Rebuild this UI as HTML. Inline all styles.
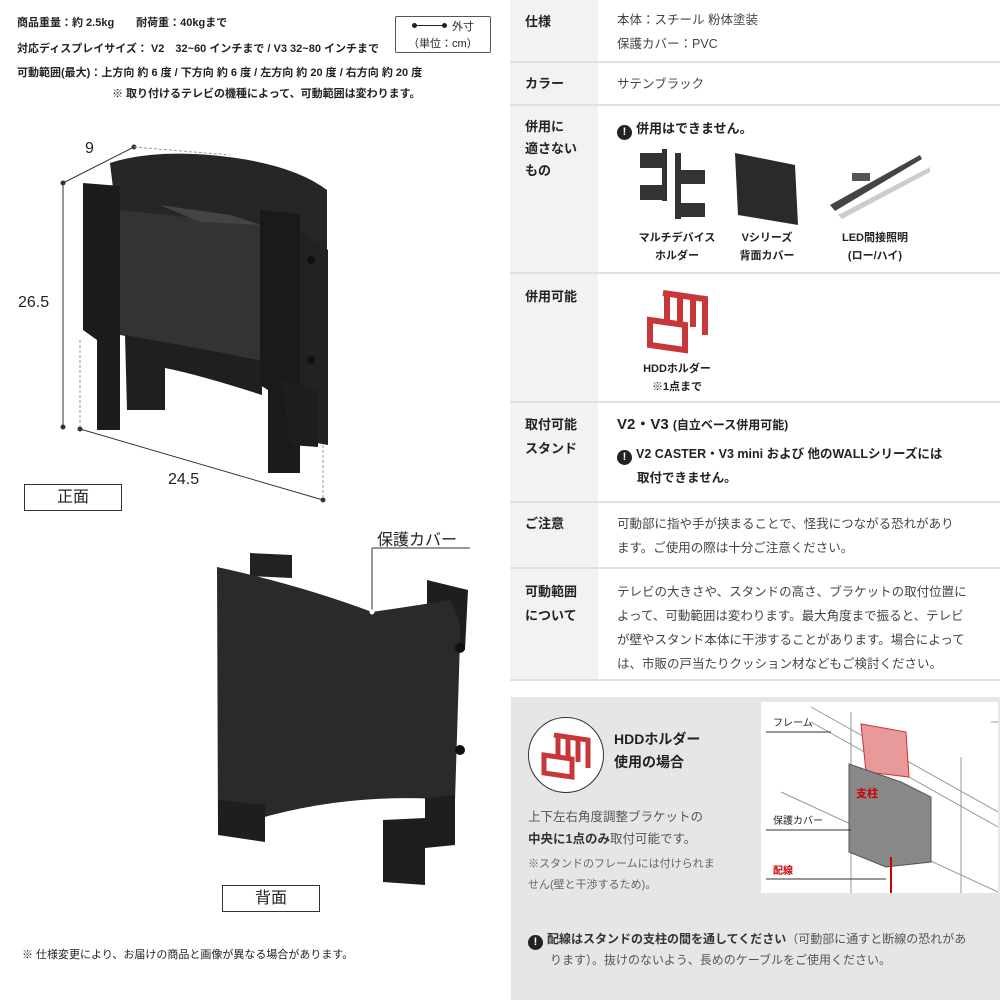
<!DOCTYPE html>
<html><head><meta charset="utf-8"><style>
*{margin:0;padding:0;box-sizing:border-box}
body{width:1000px;height:1000px;position:relative;background:#fff;font-family:"Liberation Sans","Noto Sans CJK JP",sans-serif;color:#222;overflow:hidden}
.a{position:absolute;white-space:nowrap}
.s{font-size:11px}
.lab{font-size:13px;font-weight:bold;line-height:24px}
.c{font-size:12.5px;line-height:24px;color:#444}
.hl{position:absolute;left:510px;width:490px;height:2px;background:#e0e0e0}
.ex{display:inline-block;width:15px;height:15px;border-radius:50%;background:#222;color:#fff;font-size:11px;text-align:center;line-height:15px;font-weight:bold;vertical-align:-2px;margin-right:4px}
</style></head><body>
<div class="a s" style="left:17px;top:14px;font-weight:bold">商品重量：約 2.5kg　　耐荷重：40kgまで</div>
<div class="a s" style="left:17px;top:40px;font-weight:bold">対応ディスプレイサイズ： V2　32~60 インチまで / V3 32~80 インチまで</div>
<div class="a s" style="left:17px;top:64px;font-weight:bold">可動範囲(最大)：上方向 約 6 度 / 下方向 約 6 度 / 左方向 約 20 度 / 右方向 約 20 度</div>
<div class="a s" style="left:112px;top:85px;font-weight:bold">※ 取り付けるテレビの機種によって、可動範囲は変わります。</div>
<div class="a" style="left:395px;top:16px;width:96px;height:37px;border:1px solid #555;border-radius:2px;font-size:11px">
<div style="position:absolute;left:18px;top:8px;width:30px;height:1px;background:#222"></div>
<div style="position:absolute;left:16px;top:6px;width:5px;height:5px;border-radius:50%;background:#222"></div>
<div style="position:absolute;left:46px;top:6px;width:5px;height:5px;border-radius:50%;background:#222"></div>
<div class="a" style="left:56px;top:1px">外寸</div>
<div class="a" style="left:12px;top:18px">（単位：cm）</div></div>

<svg class="a" style="left:0;top:100px" width="500" height="800" viewBox="0 100 500 800">
<g stroke="#333" stroke-width="1" fill="#333">
<line x1="63" y1="183" x2="134" y2="147"/>
<line x1="63" y1="183" x2="63" y2="427"/>
<line x1="80" y1="429" x2="323" y2="500"/>
<circle cx="63" cy="183" r="2"/><circle cx="134" cy="147" r="2"/><circle cx="63" cy="427" r="2"/><circle cx="80" cy="429" r="2"/><circle cx="323" cy="500" r="2"/>
</g>
<g stroke="#999" stroke-dasharray="3,2" fill="none"><line x1="134" y1="147" x2="230" y2="155"/><line x1="80" y1="340" x2="80" y2="427"/><line x1="323" y1="430" x2="323" y2="498"/></g>
<!-- front view -->
<path d="M110 163 Q150 150 210 155 Q290 162 327 190 L327 420 L290 440 L280 360 Q200 345 130 330 Z" fill="#262626"/>
<path d="M120 210 L262 225 L262 360 L120 335 Z" fill="#333"/>
<path d="M160 205 L230 215 L262 225 L200 222 Z" fill="#444"/>
<path d="M125 335 L262 360 L262 395 Q200 375 165 368 L165 410 L127 410 Z" fill="#1f1f1f"/>
<path d="M83 183 L120 186 L120 430 L97 430 L97 340 L83 330 Z" fill="#1c1c1c"/>
<path d="M260 210 L300 214 L300 473 L268 473 L268 390 L260 385 Z" fill="#1a1a1a"/>
<path d="M300 230 L328 250 L328 445 L300 440 Z" fill="#222"/>
<path d="M282 380 L318 390 L318 447 L290 445 Z" fill="#1e1e1e"/>
<circle cx="311" cy="260" r="4" fill="#111"/><circle cx="311" cy="360" r="4" fill="#111"/>
<!-- back view -->
<path d="M250 553 L292 555 L292 578 L250 576 Z" fill="#222"/>
<path d="M427 580 L468 590 L465 650 L427 640 Z" fill="#1e1e1e"/>
<path d="M217 567 Q300 585 372 612 Q420 605 450 600 Q462 620 460 640 L455 800 Q330 790 218 832 Z" fill="#2a2a2a"/>
<path d="M218 800 L265 805 L265 842 L218 835 Z" fill="#1e1e1e"/>
<path d="M425 798 L455 795 L455 845 L425 848 Z" fill="#1e1e1e"/>
<path d="M383 820 L425 818 L425 885 L383 882 Z" fill="#1e1e1e"/>
<circle cx="460" cy="648" r="5" fill="#111"/><circle cx="460" cy="750" r="5" fill="#111"/>
<line x1="372" y1="548" x2="470" y2="548" stroke="#333"/>
<line x1="372" y1="548" x2="372" y2="612" stroke="#333"/>
<circle cx="372" cy="612" r="2.5" fill="#fff"/>
</svg>
<div class="a" style="left:85px;top:140px;font-size:16px">9</div>
<div class="a" style="left:18px;top:294px;font-size:16px">26.5</div>
<div class="a" style="left:168px;top:471px;font-size:16px">24.5</div>
<div class="a" style="left:24px;top:484px;width:98px;height:27px;border:1px solid #333;font-size:16px;text-align:center;line-height:25px">正面</div>
<div class="a" style="left:377px;top:526px;font-size:16px">保護カバー</div>
<div class="a" style="left:222px;top:885px;width:98px;height:27px;border:1px solid #333;font-size:16px;text-align:center;line-height:25px">背面</div>
<div class="a s" style="left:22px;top:946px">※ 仕様変更により、お届けの商品と画像が異なる場合があります。</div>

<div class="a" style="left:510px;top:0;width:88px;height:680px;background:#f2f2f2"></div>
<div class="hl" style="top:61px"></div><div class="hl" style="top:104px"></div><div class="hl" style="top:272px"></div><div class="hl" style="top:401px"></div><div class="hl" style="top:501px"></div><div class="hl" style="top:567px"></div><div class="hl" style="top:679px"></div>
<div class="a lab" style="left:525px;top:10px">仕様</div>
<div class="a c" style="left:617px;top:8px">本体：スチール 粉体塗装<br>保護カバー：PVC</div>
<div class="a lab" style="left:525px;top:72px">カラー</div>
<div class="a c" style="left:617px;top:72px">サテンブラック</div>
<div class="a lab" style="left:525px;top:116px;line-height:22px">併用に<br>適さない<br>もの</div>
<div class="a" style="left:617px;top:118px;font-size:13px;font-weight:bold"><span class="ex">!</span>併用はできません。</div>
<svg class="a" style="left:630px;top:145px" width="300" height="85">
<g fill="#333"><rect x="10" y="8" width="25" height="15"/><rect x="10" y="40" width="22" height="15"/><rect x="32" y="4" width="5" height="52"/><rect x="45" y="8" width="6" height="66"/><rect x="50" y="25" width="25" height="14"/><rect x="50" y="58" width="25" height="14"/>
<path d="M105 8 L165 20 L168 80 L108 70 Z" fill="#2a2a2a"/>
<path d="M200 60 L290 10 L292 14 L205 66 Z" fill="#444"/><path d="M208 70 L300 22 L302 26 L212 74 Z" fill="#ccc"/><rect x="222" y="28" width="18" height="8" fill="#555"/></g></svg>
<div class="a" style="left:636px;top:229px;font-size:11px;font-weight:bold;line-height:18px;text-align:center;width:82px">マルチデバイス<br>ホルダー</div>
<div class="a" style="left:726px;top:229px;font-size:11px;font-weight:bold;line-height:18px;text-align:center;width:82px">Vシリーズ<br>背面カバー</div>
<div class="a" style="left:830px;top:229px;font-size:11px;font-weight:bold;line-height:18px;text-align:center;width:90px">LED間接照明<br>(ロー/ハイ)</div>
<div class="a lab" style="left:525px;top:285px">併用可能</div>
<svg class="a" style="left:645px;top:285px" width="70" height="70"><g fill="none" stroke="#c8363a" stroke-width="6"><path d="M18 8 L60 14 L60 50"/><path d="M5 35 L40 40 L40 65 L5 60 Z"/><path d="M22 8 L22 38 M35 10 L35 40 M48 12 L48 42"/></g></svg>
<div class="a" style="left:636px;top:360px;font-size:11px;font-weight:bold;line-height:18px;text-align:center;width:82px">HDDホルダー<br>※1点まで</div>
<div class="a lab" style="left:525px;top:413px">取付可能<br>スタンド</div>
<div class="a" style="left:617px;top:413px;font-size:15px;font-weight:bold">V2・V3 <span style="font-size:12px">(自立ベース併用可能)</span></div>
<div class="a" style="left:617px;top:442px;font-size:12.5px;font-weight:bold;line-height:24px"><span class="ex">!</span>V2 CASTER・V3 mini および 他のWALLシリーズには<br><span style="padding-left:20px">取付できません。</span></div>
<div class="a lab" style="left:525px;top:512px">ご注意</div>
<div class="a c" style="left:617px;top:512px">可動部に指や手が挟まることで、怪我につながる恐れがあり<br>ます。ご使用の際は十分ご注意ください。</div>
<div class="a lab" style="left:525px;top:580px">可動範囲<br>について</div>
<div class="a c" style="left:617px;top:580px">テレビの大きさや、スタンドの高さ、ブラケットの取付位置に<br>よって、可動範囲は変わります。最大角度まで振ると、テレビ<br>が壁やスタンド本体に干渉することがあります。場合によって<br>は、市販の戸当たりクッション材などもご検討ください。</div>

<div class="a" style="left:511px;top:697px;width:489px;height:303px;background:#e6e6e6"></div>
<div class="a" style="left:528px;top:717px;width:76px;height:76px;border-radius:50%;border:1.5px solid #333;background:#fff"></div>
<svg class="a" style="left:540px;top:730px" width="55" height="50"><g fill="none" stroke="#c8363a" stroke-width="5"><path d="M14 5 L48 10 L48 38"/><path d="M4 25 L32 29 L32 47 L4 43 Z"/><path d="M18 5 L18 28 M28 7 L28 30 M38 8 L38 32"/></g></svg>
<div class="a" style="left:614px;top:728px;font-size:14px;font-weight:bold;line-height:23px">HDDホルダー<br>使用の場合</div>
<div class="a" style="left:528px;top:806px;font-size:12.5px;line-height:22px;color:#555">上下左右角度調整ブラケットの<br><b style="color:#333">中央に1点のみ</b>取付可能です。</div>
<div class="a" style="left:528px;top:854px;font-size:11px;line-height:21px;color:#666">※スタンドのフレームには付けられま<br>せん(壁と干渉するため)。</div>
<svg class="a" style="left:761px;top:702px" width="237" height="191">
<rect width="237" height="191" fill="#fff"/>
<g stroke="#999" fill="none"><path d="M50 5 L237 110 M50 20 L237 125 M20 90 L237 190 M90 10 L90 191 M200 55 L200 191 M230 20 L237 20"/></g>
<path d="M100 22 L145 30 L148 75 L105 70 Z" fill="#e8999a" stroke="#c33"/>
<path d="M88 62 L140 80 L170 95 L170 160 L125 165 L88 150 Z" fill="#888" stroke="#555"/>
<line x1="130" y1="155" x2="130" y2="191" stroke="#c00" stroke-width="2"/>
<g stroke="#333"><line x1="5" y1="30" x2="70" y2="30"/><line x1="5" y1="128" x2="90" y2="128"/><line x1="5" y1="177" x2="125" y2="177"/></g>
<text x="12" y="24" font-size="10" fill="#222">フレーム</text><text x="12" y="122" font-size="10" fill="#222">保護カバー</text><text x="12" y="172" font-size="10" fill="#c00" font-weight="bold">配線</text><text x="95" y="95" font-size="11" fill="#c00" font-weight="bold">支柱</text>
</svg>
<div class="a" style="left:528px;top:929px;font-size:12px;line-height:21px;color:#555"><span class="ex">!</span><b style="color:#333">配線はスタンドの支柱の間を通してください</b>（可動部に通すと断線の恐れがあ<br><span style="padding-left:22px">ります）。抜けのないよう、長めのケーブルをご使用ください。</span></div>
</body></html>
